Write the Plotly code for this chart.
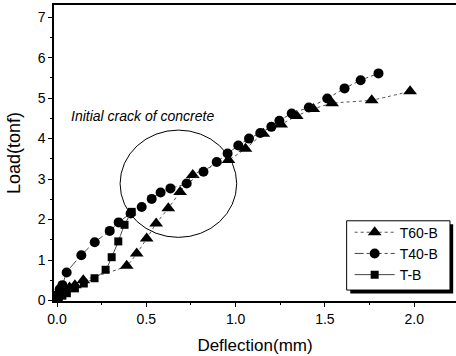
import plotly.graph_objects as go

# Load-deflection data
t60_x = [0, 0.01, 0.02, 0.04, 0.07, 0.10, 0.147, 0.39, 0.446, 0.502, 0.555, 0.623, 0.689, 0.76,
         0.96, 1.055, 1.155, 1.255, 1.342, 1.435, 1.54, 1.762, 1.977]
t60_y = [0, 0.12, 0.22, 0.28, 0.32, 0.38, 0.50, 0.86, 1.16, 1.53, 1.90, 2.28, 2.68, 3.10,
         3.47, 3.75, 4.12, 4.35, 4.56, 4.73, 4.87, 4.95, 5.17]

t40_x = [0, 0.005, 0.015, 0.03, 0.054, 0.136, 0.211, 0.295, 0.345, 0.412, 0.474, 0.53, 0.58,
         0.635, 0.726, 0.82, 0.894, 0.955, 1.015, 1.075, 1.138, 1.20, 1.245, 1.314, 1.41,
         1.513, 1.61, 1.70, 1.80]
t40_y = [0, 0.15, 0.28, 0.38, 0.69, 1.12, 1.44, 1.72, 1.93, 2.15, 2.31, 2.51, 2.67,
         2.77, 2.89, 3.18, 3.42, 3.63, 3.83, 4.00, 4.14, 4.29, 4.44, 4.62, 4.77,
         4.99, 5.24, 5.44, 5.61]

tb_x = [0, 0.01, 0.03, 0.055, 0.10, 0.15, 0.21, 0.272, 0.306, 0.343, 0.378, 0.418]
tb_y = [0, 0.06, 0.12, 0.18, 0.30, 0.42, 0.55, 0.76, 1.07, 1.46, 1.87, 2.19]

series_names = ["T60-B", "T40-B", "T-B"]
x_ticks = [0.0, 0.5, 1.0, 1.5, 2.0]
y_ticks = [0, 1, 2, 3, 4, 5, 6, 7]

annotation_text = "Initial crack of concrete"
crack_box = dict(x0=0.353, x1=1.006, y0=1.56, y1=4.21)

FONT = "Liberation Sans, Arial, sans-serif"

fig = go.Figure()
fig.add_trace(go.Scatter(
    x=t60_x, y=t60_y, name=series_names[0], mode="lines+markers",
    line=dict(color="#555555", width=1, dash="dot", shape="spline", smoothing=0.6),
    marker=dict(symbol="triangle-up", size=12, color="black"),
))
fig.add_trace(go.Scatter(
    x=t40_x, y=t40_y, name=series_names[1], mode="lines+markers",
    line=dict(color="#444444", width=1, dash="dashdot", shape="spline", smoothing=0.6),
    marker=dict(symbol="circle", size=10, color="black"),
))
fig.add_trace(go.Scatter(
    x=tb_x, y=tb_y, name=series_names[2], mode="lines+markers",
    line=dict(color="#444444", width=1, shape="spline", smoothing=0.6),
    marker=dict(symbol="square", size=8, color="black"),
))

# ellipse marking the initial crack region
fig.add_shape(type="circle", xref="x", yref="y", line=dict(color="black", width=1),
              **crack_box)
fig.add_annotation(x=0.48, y=4.56, xref="x", yref="y", text=annotation_text,
                   showarrow=False,
                   font=dict(family=FONT, size=14, color="black", style="italic"),
                   xanchor="center", yanchor="middle")

# legend frame with drop shadow
fig.add_shape(type="rect", xref="paper", yref="paper", layer="above",
              x0=0.737, x1=0.993, y0=0.025, y1=0.259,
              fillcolor="black", line=dict(width=0))
fig.add_shape(type="rect", xref="paper", yref="paper", layer="above",
              x0=0.728, x1=0.985, y0=0.037, y1=0.271,
              fillcolor="white", line=dict(color="black", width=1))

fig.update_layout(
    width=456, height=356,
    margin=dict(l=54, r=0, t=5, b=55),
    paper_bgcolor="white", plot_bgcolor="white",
    font=dict(family=FONT, size=14, color="black"),
    showlegend=True,
    legend=dict(x=0.7355, y=0.285, xanchor="left", yanchor="top",
                bgcolor="rgba(0,0,0,0)", borderwidth=0,
                font=dict(family=FONT, size=14, color="black"),
                tracegroupgap=0, itemwidth=40),
    xaxis=dict(range=[-0.017, 2.234], tickvals=x_ticks, ticktext=["%.1f" % v for v in x_ticks],
               showgrid=False, zeroline=False, showline=True, linecolor="black", linewidth=1.5,
               mirror=True, ticks="outside", ticklen=4, tickwidth=1, tickcolor="black",
               minor=dict(dtick=0.25, ticks="outside", ticklen=2, tickcolor="black", showgrid=False),
               title=dict(text="Deflection(mm)", font=dict(family=FONT, size=17), standoff=14)),
    yaxis=dict(range=[-0.012, 7.30], tickvals=y_ticks,
               showgrid=False, zeroline=False, showline=True, linecolor="black", linewidth=1.5,
               ticks="outside", ticklen=4, tickwidth=1, tickcolor="black",
               minor=dict(dtick=0.5, ticks="outside", ticklen=2, tickcolor="black", showgrid=False),
               title=dict(text="Load(tonf)", font=dict(family=FONT, size=18), standoff=12)),
)

fig.write_html("out.html")
